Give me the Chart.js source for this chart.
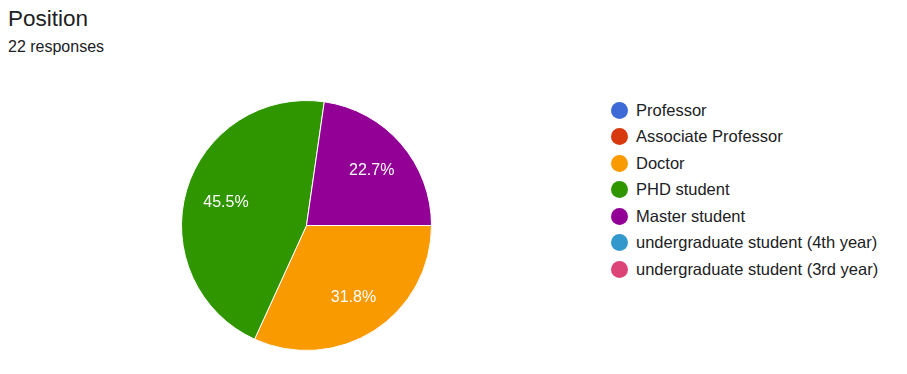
<!DOCTYPE html>
<html>
<head>
<meta charset="utf-8">
<script src="https://cdn.jsdelivr.net/npm/chart.js@4/dist/chart.umd.min.js"></script>
<style>
  body { margin: 0; width: 907px; height: 374px; background: #fff; font-family: "Liberation Sans", Arial, sans-serif; position: relative; overflow: hidden; }
  #title { position: absolute; left: 8px; top: 6px; font-size: 22.5px; color: #202124; }
  #sub { position: absolute; left: 8px; top: 38px; font-size: 16px; color: #202124; }
  #pieBox { position: absolute; left: 181px; top: 100px; width: 251px; height: 251px; }
  #legend { position: absolute; left: 611px; top: 97px; }
  .item { height: 26.5px; display: flex; align-items: center; font-size: 16.5px; color: #202124; white-space: nowrap; }
  .dot { width: 17px; height: 17px; border-radius: 50%; margin-right: 8px; }
</style>
</head>
<body>
<div id="title">Position</div>
<div id="sub">22 responses</div>
<div id="pieBox"><canvas id="pie"></canvas></div>
<div id="legend"></div>
<script>
// ===============================
// Data
// ===============================
const labels = [
  "Professor",
  "Associate Professor",
  "Doctor",
  "PHD student",
  "Master student",
  "undergraduate student (4th year)",
  "undergraduate student (3rd year)"
];
const counts = [0, 0, 7, 10, 5, 0, 0];
const colors = ["#3d6ad6", "#d8390f", "#f89a00", "#2f9600", "#930096", "#3399cc", "#dc4477"];

const total = counts.reduce((a, b) => a + b, 0);

// ===============================
// Legend (HTML)
// ===============================
const legend = document.getElementById("legend");
labels.forEach((name, i) => {
  const row = document.createElement("div");
  row.className = "item";
  row.innerHTML = '<span class="dot" style="background:' + colors[i] + '"></span>' + name;
  legend.appendChild(row);
});

// ===============================
// Percent labels inside slices
// ===============================
const sliceLabels = {
  id: "sliceLabels",
  afterDatasetsDraw(chart) {
    const ctx = chart.ctx;
    const meta = chart.getDatasetMeta(0);
    ctx.save();
    ctx.font = "16px 'Liberation Sans', Arial, sans-serif";
    ctx.fillStyle = "#fff";
    ctx.textAlign = "center";
    ctx.textBaseline = "middle";
    meta.data.forEach((arc, i) => {
      if (!counts[i]) return;
      const mid = (arc.startAngle + arc.endAngle) / 2;
      const r = arc.outerRadius * 0.68;
      const pct = (counts[i] / total * 100).toFixed(1) + "%";
      ctx.fillText(pct, arc.x + Math.cos(mid) * r + 1, arc.y + Math.sin(mid) * r + 1);
    });
    ctx.restore();
  }
};

new Chart(document.getElementById("pie"), {
  type: "pie",
  data: {
    labels: labels,
    datasets: [{
      data: counts,
      backgroundColor: colors,
      borderColor: "#fff",
      borderWidth: 1,
      hoverOffset: 0
    }]
  },
  options: {
    responsive: true,
    maintainAspectRatio: false,
    animation: false,
    rotation: 90,
    plugins: {
      legend: { display: false },
      tooltip: { enabled: false }
    }
  },
  plugins: [sliceLabels]
});
</script>
</body>
</html>
